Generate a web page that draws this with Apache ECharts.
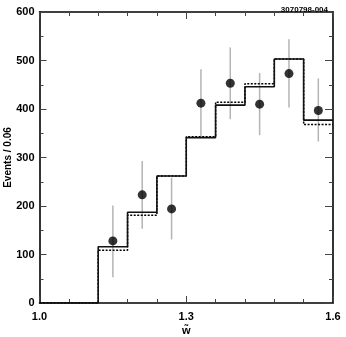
<!DOCTYPE html>
<html><head><meta charset="utf-8">
<script src="https://cdn.jsdelivr.net/npm/echarts@6/dist/echarts.min.js"></script>
<style>html,body{margin:0;padding:0;background:#fff}#c{width:346px;height:337px}</style>
</head><body><div id="c"></div>
<script>
// bin edges (w~) and histogram contents
const binEdges = [1.00, 1.06, 1.12, 1.18, 1.24, 1.30, 1.36, 1.42, 1.48, 1.54, 1.60];
const solidHist = [0, 0, 116, 187, 262, 341, 408, 446, 503, 377];
const dashedHist = [0, 0, 109, 181, 262, 343, 414, 452, 503, 368];
// data points with error bars
const pointX = [1.15, 1.21, 1.27, 1.33, 1.39, 1.45, 1.51, 1.57];
const pointY = [128, 223, 194, 412, 453, 410, 473, 397];
const errLow = [53, 153, 131, 343, 379, 346, 403, 333];
const errHigh = [201, 293, 258, 482, 527, 474, 544, 463];
const xTickLabels = ['1.0', '1.3', '1.6'];
const X0 = 1.0; // axis origin offset

function stepPoints(vals) {
  const pts = [];
  for (let i = 0; i < vals.length; i++) {
    pts.push([binEdges[i] - X0, vals[i]]);
    pts.push([binEdges[i + 1] - X0, vals[i]]);
  }
  return pts;
}

const chart = echarts.init(document.getElementById('c'), null, {renderer: 'canvas'});
const font = 'Liberation Sans, Arial, Helvetica, sans-serif';
const axisCommon = {
  axisLine: {show: true, onZero: false, lineStyle: {color: '#000', width: 1.6}},
  splitLine: {show: false},
};
chart.setOption({
  animation: false,
  title: {text: '3070798-004', right: 13, top: 1,
    textStyle: {fontFamily: font, fontSize: 8, fontWeight: 'bold', color: '#000'}},
  grid: {left: 39.5, right: 13, top: 12, bottom: 34, containLabel: false, outerBoundsMode: 'none'},
  xAxis: [{
    type: 'value', min: 0, max: 0.6, interval: 0.3, position: 'bottom',
    ...axisCommon,
    axisTick: {show: true, inside: true, length: 7, lineStyle: {color: '#444', width: 1}},
    minorTick: {show: true, splitNumber: 5, length: 4, lineStyle: {color: '#444', width: 1}},
    axisLabel: {margin: 8, fontFamily: font, fontSize: 11, fontWeight: 'bold', color: '#000',
      formatter: v => xTickLabels[Math.round(v / 0.3)]},
    name: 'w\u0303', nameLocation: 'middle', nameGap: 22, nameMoveOverlap: false,
    nameTextStyle: {fontFamily: font, fontSize: 11, fontWeight: 'bold', color: '#000'}
  }, {
    type: 'value', min: 0, max: 0.6, interval: 0.3, position: 'top',
    ...axisCommon,
    axisTick: {show: true, inside: true, length: 7, lineStyle: {color: '#444', width: 1}},
    minorTick: {show: true, splitNumber: 5, length: 4, lineStyle: {color: '#444', width: 1}},
    axisLabel: {show: false}
  }],
  yAxis: [{
    type: 'value', min: 0, max: 600, interval: 100, position: 'left',
    ...axisCommon,
    axisTick: {show: true, inside: true, length: 7, lineStyle: {color: '#444', width: 1}},
    minorTick: {show: true, splitNumber: 2, length: 4, lineStyle: {color: '#444', width: 1}},
    axisLabel: {margin: 5, fontFamily: font, fontSize: 11, fontWeight: 'bold', color: '#000'},
    name: 'Events / 0.06', nameLocation: 'middle', nameGap: 26.5, nameRotate: 90, nameMoveOverlap: false,
    nameTextStyle: {fontFamily: font, fontSize: 10, fontWeight: 'bold', color: '#000'}
  }, {
    type: 'value', min: 0, max: 600, interval: 100, position: 'right',
    ...axisCommon,
    axisTick: {show: true, inside: true, length: 8, lineStyle: {color: '#444', width: 1}},
    minorTick: {show: true, splitNumber: 2, length: 4, lineStyle: {color: '#444', width: 1}},
    axisLabel: {show: false}
  }],
  series: [
    {
      type: 'custom', xAxisIndex: 0, yAxisIndex: 0, z: 1,
      data: pointX.map((x, i) => [x - X0, errLow[i], errHigh[i]]),
      renderItem: (params, api) => {
        const a = api.coord([api.value(0), api.value(1)]);
        const b = api.coord([api.value(0), api.value(2)]);
        return {type: 'line', shape: {x1: a[0], y1: a[1], x2: b[0], y2: b[1]},
          style: {stroke: '#b4b4b4', lineWidth: 1.5}};
      }
    },
    {
      type: 'line', data: stepPoints(dashedHist), symbol: 'none', z: 2,
      lineStyle: {color: '#000', width: 1.5, type: [2, 1.5]}
    },
    {
      type: 'line', data: stepPoints(solidHist), symbol: 'none', z: 3,
      lineStyle: {color: '#111', width: 1.6}
    },
    {
      type: 'scatter', data: pointX.map((x, i) => [x - X0, pointY[i]]), z: 4,
      symbol: 'circle', symbolSize: 9, itemStyle: {color: '#000'}
    }
  ]
});
</script></body></html>
